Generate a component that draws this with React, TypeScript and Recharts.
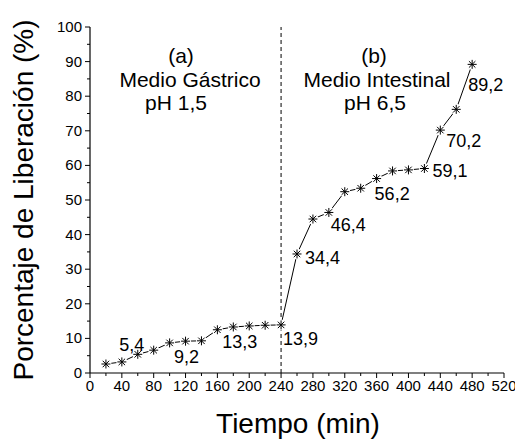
import React from "react";
import { LineChart, Line, XAxis, YAxis, ReferenceLine, LabelList } from "recharts";

const FONT = '"Liberation Sans", Arial, sans-serif';

const TIME = [20, 40, 60, 80, 100, 120, 140, 160, 180, 200, 220, 240, 260, 280, 300, 320, 340, 360, 380, 400, 420, 440, 460, 480];
const RELEASE = [2.6, 3.2, 5.4, 6.6, 8.7, 9.2, 9.3, 12.5, 13.3, 13.6, 13.8, 13.9, 34.4, 44.5, 46.4, 52.4, 53.4, 56.2, 58.4, 58.7, 59.1, 70.2, 76.2, 89.2];
const LABELED_TIMES = [60, 120, 180, 240, 260, 300, 360, 420, 440, 480];
const X_TICKS = [0, 20, 40, 60, 80, 100, 120, 140, 160, 180, 200, 220, 240, 260, 280, 300, 320, 340, 360, 380, 400, 420, 440, 460, 480, 500, 520];
const Y_TICKS = [0, 5, 10, 15, 20, 25, 30, 35, 40, 45, 50, 55, 60, 65, 70, 75, 80, 85, 90, 95, 100];
const PHASE_TAGS = ["(a)", "(b)"];
const PHASE_MEDIA = ["Medio Gástrico", "Medio Intestinal"];
const PHASE_PH = ["pH 1,5", "pH 6,5"];
const CHANGE_TIME = 240;

const data = TIME.map((t, i) => ({ t, v: RELEASE[i] }));

// where each value label sits relative to its point
const LABEL_POS: Record<number, [string, number, number]> = {
  60: ["middle", -6, -3],
  120: ["middle", 1, 22],
  180: ["start", -11, 21],
  240: ["start", 2, 20],
  260: ["start", 8, 10],
  300: ["start", 2, 19],
  360: ["start", -2, 21],
  420: ["start", 8, 8],
  440: ["start", 6, 17],
  480: ["start", -4, 27],
};

const Star = (props: any) => {
  const { cx, cy } = props;
  if (cx == null || cy == null) return null;
  const r = 4.5;
  const d = r * 0.72;
  return (
    <g>
      <circle cx={cx} cy={cy} r={5.5} fill="#fff" />
      <line x1={cx - r} x2={cx + r} y1={cy} y2={cy} stroke="#000" strokeWidth={1} />
      <line x1={cx} x2={cx} y1={cy - r} y2={cy + r} stroke="#000" strokeWidth={1} />
      <line x1={cx - d} x2={cx + d} y1={cy - d} y2={cy + d} stroke="#000" strokeWidth={1} />
      <line x1={cx - d} x2={cx + d} y1={cy + d} y2={cy - d} stroke="#000" strokeWidth={1} />
    </g>
  );
};

const BottomTick = ({ x, y, payload }: any) => {
  const major = payload.value % 40 === 0;
  return (
    <g>
      <line x1={x} x2={x} y1={y} y2={y + (major ? 5 : 3)} stroke="#000" />
      {major && (
        <text x={x} y={y + 18} textAnchor="middle" fontSize={15} fontFamily={FONT} fill="#000">
          {payload.value}
        </text>
      )}
    </g>
  );
};

const TopTick = ({ x, y, payload }: any) => {
  const major = payload.value % 40 === 0;
  return <line x1={x} x2={x} y1={y} y2={y + (major ? 5 : 4)} stroke="#000" />;
};

const LeftTick = ({ x, y, payload }: any) => {
  const major = payload.value % 10 === 0;
  return (
    <g>
      <line x1={x} x2={x - (major ? 5 : 3)} y1={y} y2={y} stroke="#000" />
      {major && (
        <text x={x - 8} y={y + 5} textAnchor="end" fontSize={15} fontFamily={FONT} fill="#000">
          {payload.value}
        </text>
      )}
    </g>
  );
};

const RightTick = ({ x, y, payload }: any) => {
  const major = payload.value % 10 === 0;
  return <line x1={x} x2={x - (major ? 5 : 4)} y1={y} y2={y} stroke="#000" />;
};

const ValueLabel = (props: any) => {
  const { x, y, index } = props;
  const t = TIME[index];
  const pos = LABEL_POS[t];
  if (!LABELED_TIMES.includes(t) || !pos) return null;
  return (
    <text x={x + pos[1]} y={y + pos[2]} textAnchor={pos[0] as any} fontSize={18} fontFamily={FONT} fill="#000">
      {RELEASE[index].toFixed(1).replace(".", ",")}
    </text>
  );
};

export default function App() {
  const textStyle = { fontFamily: FONT, fill: "#000" };
  return (
    <div style={{ position: "absolute", left: 0, top: 0, background: "#fff" }}>
      <LineChart width={515} height={441} data={data} margin={{ top: 27, right: 11, left: 30, bottom: 38 }}>
        <XAxis
          dataKey="t"
          type="number"
          domain={[0, 520]}
          ticks={X_TICKS}
          interval={0}
          tickLine={false}
          tickSize={0}
          tickMargin={0}
          tick={<BottomTick />}
          axisLine={{ stroke: "#000", strokeWidth: 1.2 }}
          height={30}
        />
        <XAxis
          xAxisId="top"
          orientation="top"
          type="number"
          domain={[0, 520]}
          ticks={X_TICKS}
          interval={0}
          tickLine={false}
          tickSize={0}
          tickMargin={0}
          tick={<TopTick />}
          axisLine={{ stroke: "#000", strokeWidth: 1.2 }}
          height={0}
        />
        <YAxis
          type="number"
          domain={[0, 100]}
          ticks={Y_TICKS}
          interval={0}
          tickLine={false}
          tickSize={0}
          tickMargin={0}
          tick={<LeftTick />}
          axisLine={{ stroke: "#000", strokeWidth: 1.2 }}
          width={60}
        />
        <YAxis
          yAxisId="right"
          orientation="right"
          type="number"
          domain={[0, 100]}
          ticks={Y_TICKS}
          interval={0}
          tickLine={false}
          tickSize={0}
          tickMargin={0}
          tick={<RightTick />}
          axisLine={{ stroke: "#000", strokeWidth: 1.2 }}
          width={0}
        />
        <ReferenceLine x={CHANGE_TIME} stroke="#000" strokeDasharray="4 3" strokeWidth={1} />
        <Line
          dataKey="v"
          stroke="#000"
          strokeWidth={1}
          dot={<Star />}
          activeDot={false}
          isAnimationActive={false}
        >
          <LabelList dataKey="v" content={<ValueLabel />} />
        </Line>
        <text x={181} y={63} textAnchor="middle" fontSize={21} style={textStyle}>{PHASE_TAGS[0]}</text>
        <text x={190} y={87} textAnchor="middle" fontSize={21} style={textStyle}>{PHASE_MEDIA[0]}</text>
        <text x={176} y={110} textAnchor="middle" fontSize={21} style={textStyle}>{PHASE_PH[0]}</text>
        <text x={374} y={63} textAnchor="middle" fontSize={21} style={textStyle}>{PHASE_TAGS[1]}</text>
        <text x={377} y={87} textAnchor="middle" fontSize={21} style={textStyle}>{PHASE_MEDIA[1]}</text>
        <text x={375} y={110} textAnchor="middle" fontSize={21} style={textStyle}>{PHASE_PH[1]}</text>
        <text
          x={33}
          y={200}
          textAnchor="middle"
          fontSize={28}
          transform="rotate(-90 33 200)"
          style={textStyle}
        >
          Porcentaje de Liberación (%)
        </text>
        <text x={298} y={433} textAnchor="middle" fontSize={28} style={textStyle}>
          Tiempo (min)
        </text>
      </LineChart>
    </div>
  );
}
